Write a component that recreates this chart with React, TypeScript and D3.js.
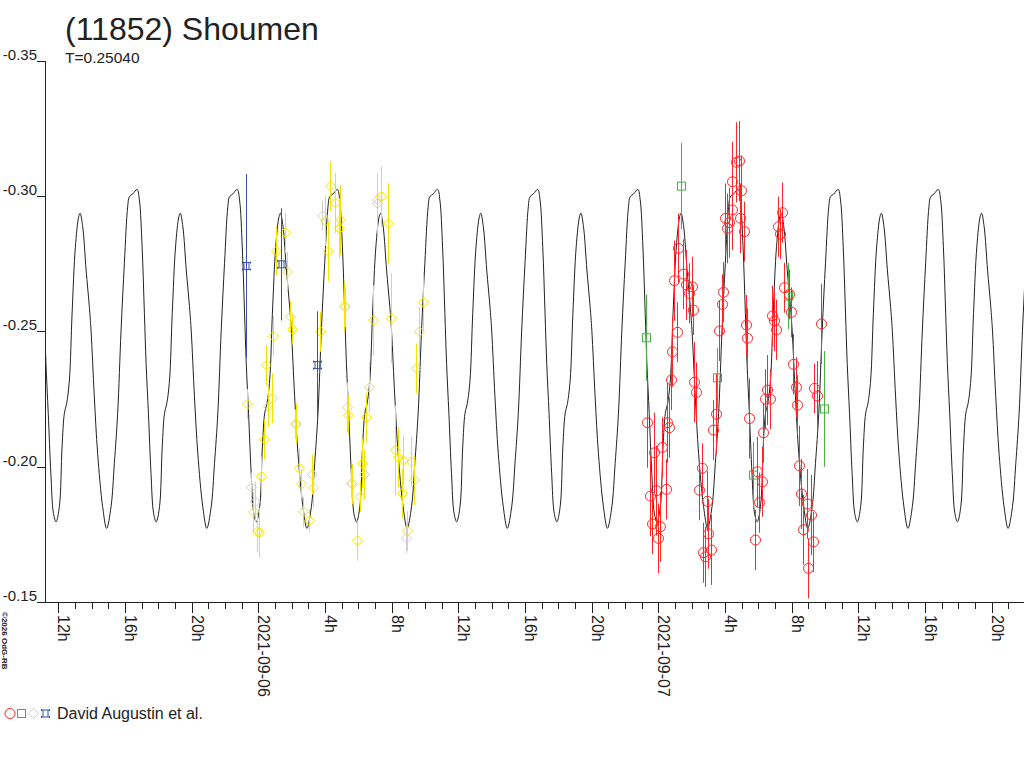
import * as d3 from 'd3'

// hours are counted from 2021-09-06 00:00 UTC
const DAY0 = Date.UTC(2021, 8, 6)
const PERIOD_H = 0.2504 * 24
const EPOCH_H = 11.902
const START_H = -12.8
const END_H = 45.94

// one period of the model lightcurve (phase 0 = fainter minimum)
const modelPhase = [0, 0.033, 0.06, 0.083, 0.106, 0.133, 0.16, 0.193, 0.226, 0.24, 0.266, 0.3, 0.332, 0.349, 0.382, 0.415, 0.465, 0.505, 0.549, 0.582, 0.615, 0.649, 0.682, 0.715, 0.732, 0.765, 0.809, 0.832, 0.859, 0.882, 0.899, 0.922, 0.948, 0.974]
const modelMag = [-0.1796, -0.1852, -0.2073, -0.2197, -0.2234, -0.232, -0.2566, -0.2812, -0.2923, -0.2936, -0.2886, -0.2726, -0.2591, -0.2504, -0.2258, -0.2049, -0.1852, -0.1772, -0.1852, -0.2012, -0.2197, -0.2504, -0.2751, -0.296, -0.2997, -0.3007, -0.3024, -0.2985, -0.2812, -0.2566, -0.2381, -0.2197, -0.1975, -0.1827]

const redHours = [25.198, 24.958, 25.498, 25.66, 26.002, 25.858, 26.062, 25.102, 24.838, 28.642, 28.402, 28.402, 28.0, 28.258, 28.138, 28.9, 27.898, 27.802, 27.658, 28.81, 28.942, 29.14, 29.242, 29.338, 31.438, 31.162, 31.3, 31.558, 31.858, 31.96, 30.838, 30.94, 31.042, 32.098, 33.742, 24.76, 23.338, 24.538, 24.64, 23.74, 24.238, 23.86, 24.442, 23.5, 23.62, 24.1, 23.998, 26.158, 26.26, 27.442, 27.262, 26.602, 26.44, 26.938, 26.998, 27.142, 26.662, 26.8, 30.538, 30.4, 30.7, 29.458, 30.298, 29.902, 30.202, 30.058, 29.8, 32.242, 32.338, 33.358, 33.502, 32.44, 32.542, 32.902, 33.142, 32.662, 33.298, 32.962]
const redMags = [-0.2806, -0.2687, -0.2711, -0.2671, -0.2664, -0.264, -0.2578, -0.2496, -0.2424, -0.3124, -0.3052, -0.2948, -0.2917, -0.2901, -0.288, -0.2917, -0.2644, -0.2599, -0.2501, -0.3129, -0.3019, -0.2868, -0.2523, -0.2474, -0.2938, -0.2886, -0.2859, -0.2661, -0.2636, -0.257, -0.2557, -0.2538, -0.2505, -0.2378, -0.2527, -0.232, -0.2162, -0.2162, -0.2144, -0.2051, -0.2071, -0.1911, -0.1916, -0.1891, -0.1788, -0.1778, -0.1735, -0.2312, -0.2274, -0.2194, -0.2135, -0.1994, -0.1913, -0.1872, -0.1752, -0.1692, -0.1682, -0.1667, -0.2283, -0.2249, -0.2249, -0.2178, -0.2125, -0.1981, -0.1944, -0.1867, -0.1729, -0.2293, -0.2227, -0.2289, -0.2261, -0.2003, -0.1899, -0.1862, -0.1821, -0.1767, -0.1722, -0.1624]
const redErrs = [0.0129, 0.0148, 0.0129, 0.0129, 0.0111, 0.0111, 0.0092, 0.0111, 0.0129, 0.0148, 0.0148, 0.0148, 0.0129, 0.0129, 0.0129, 0.0129, 0.0111, 0.0111, 0.0111, 0.0148, 0.0129, 0.0111, 0.0111, 0.0111, 0.0111, 0.0111, 0.0092, 0.0092, 0.0092, 0.0092, 0.0111, 0.0111, 0.0111, 0.0111, 0.0148, 0.0111, 0.0166, 0.0148, 0.0111, 0.0148, 0.0111, 0.0166, 0.0111, 0.0148, 0.0111, 0.0129, 0.0129, 0.0148, 0.0111, 0.0148, 0.0111, 0.0092, 0.0111, 0.0111, 0.0129, 0.0129, 0.0111, 0.0111, 0.0129, 0.0111, 0.0111, 0.0148, 0.0111, 0.0129, 0.0129, 0.0111, 0.0111, 0.0111, 0.0111, 0.0092, 0.0129, 0.0148, 0.0129, 0.0129, 0.0148, 0.0129, 0.0111, 0.0111]

const yellowHours = [4.3, 4.0, 4.198, 4.918, 4.84, 4.6, 1.6, 1.06, 1.72, 1.9, 2.002, 0.898, 3.7, 5.158, 7.342, 7.12, 7.762, 6.898, 7.96, 9.898, 9.64, 0.46, -0.662, 0.802, 0.598, 0.34, 0.16, -0.458, -0.302, -0.062, 0.058, 2.26, 2.44, 2.56, 3.238, 3.298, 2.698, 3.022, 6.64, 5.302, 5.398, 6.46, 6.202, 6.358, 5.638, 6.1, 5.902, 9.46, 8.2, 8.362, 8.698, 9.142, 9.322, 8.602, 8.938]
const yellowMags = [-0.3036, -0.2907, -0.2796, -0.2911, -0.288, -0.2974, -0.2864, -0.2796, -0.2719, -0.2554, -0.2507, -0.2482, -0.2498, -0.2593, -0.2997, -0.2972, -0.2899, -0.2541, -0.2548, -0.2607, -0.2498, -0.2375, -0.2231, -0.2252, -0.2221, -0.2101, -0.1963, -0.1923, -0.1833, -0.1759, -0.1756, -0.2157, -0.1994, -0.1936, -0.1971, -0.1922, -0.1833, -0.18, -0.2293, -0.2219, -0.219, -0.2181, -0.2012, -0.1971, -0.1935, -0.1889, -0.1726, -0.2363, -0.2061, -0.2034, -0.2024, -0.2018, -0.195, -0.1901, -0.1762]
const yellowErrs = [0.0092, 0.0092, 0.0111, 0.0129, 0.0111, 0.0111, 0.0074, 0.0092, 0.0074, 0.0055, 0.0055, 0.0074, 0.0074, 0.0092, 0.0111, 0.0111, 0.0148, 0.0129, 0.0166, 0.0111, 0.0092, 0.0074, 0.0055, 0.0092, 0.0074, 0.0074, 0.0074, 0.0055, 0.0074, 0.0074, 0.0092, 0.0074, 0.0074, 0.0055, 0.0074, 0.0074, 0.0055, 0.0044, 0.0092, 0.0092, 0.0074, 0.0092, 0.0092, 0.0092, 0.0074, 0.0055, 0.0074, 0.0092, 0.0166, 0.0111, 0.0092, 0.0092, 0.0092, 0.0092, 0.0074]

const grayHours = [3.82, 7.12, 5.2, 2.2, -0.2, 8.86, 5.56]
const grayMags = [-0.2926, -0.2985, -0.2589, -0.2157, -0.187, -0.1736, -0.1939]
const grayErrs = [0.0055, 0.0037, 0.0074, 0.0055, 0.0074, 0.0055, 0.0055]

const blueHours = [-0.758, 1.36, 3.52]
const blueMags = [-0.2741, -0.2747, -0.2375]
const blueErrs = [0.034, 0.0207, 0.0199]

const greenHours = [25.36, 23.242, 27.502, 29.662, 33.94, 31.798]
const greenMags = [-0.3036, -0.2476, -0.2328, -0.1969, -0.2213, -0.263]
const greenErrs = [0.0159, 0.0159, 0.0111, 0.0122, 0.0214, 0.0122]

const yTicks = [-0.35, -0.3, -0.25, -0.2, -0.15]

const FONT = '"Liberation Sans", Arial, sans-serif'
const INK = '#222'
const RED = '#ff2626'
const GREEN = '#48b040'
const YELLOW = '#f2e400'
const BLUE = '#3552a6'
const GRAY = '#cfcfcf'

const L = 45, R = 1024, T = 60.5, B = 602
const toDate = (h: number) => new Date(DAY0 + h * 3600e3)

const x = d3.scaleUtc().domain([toDate(START_H), toDate(END_H)]).range([L, R])
const y = d3.scaleLinear().domain([-0.35, -0.15]).range([T, B])

const DIAMOND = 'M0,-5L5,0L0,5L-5,0Z'
const STAR = 'M-4,-3.5L4,-3.5M-4,3.5L4,3.5M-2.5,-3.5L-2.5,3.5M2.5,-3.5L2.5,3.5M-4,-4.5L-4,-2.5M4,-4.5L4,-2.5M-4,2.5L-4,4.5M4,2.5L4,4.5'

type Kind = 'circle' | 'square' | 'diamond' | 'star'

function Marker({ kind, color, cx, cy }: { kind: Kind; color: string; cx: number; cy: number }) {
  if (kind === 'circle') return <circle cx={cx} cy={cy} r={5} fill="none" stroke={color} strokeWidth={1} />
  if (kind === 'square') return <rect x={cx - 4} y={cy - 4} width={8} height={8} fill="none" stroke={color} strokeWidth={1} />
  if (kind === 'diamond') return <path d={DIAMOND} transform={`translate(${cx},${cy})`} fill="none" stroke={color} strokeWidth={1} />
  return <path d={STAR} transform={`translate(${cx},${cy})`} fill="none" stroke={color} strokeWidth={1} />
}

function Series({ hours, mags, errs, color, kind }: { hours: number[]; mags: number[]; errs: number[]; color: string; kind: Kind }) {
  return (
    <g>
      {hours.map((h, i) => {
        const cx = Math.round(x(toDate(h))) + 0.5
        return (
          <g key={i}>
            <line x1={cx} x2={cx} y1={y(mags[i] - errs[i])} y2={y(mags[i] + errs[i])} stroke={color} strokeWidth={1} />
            <Marker kind={kind} color={color} cx={cx} cy={y(mags[i])} />
          </g>
        )
      })}
    </g>
  )
}

export default function App() {
  // tile the one-period model over the whole time range
  const modelPts: [number, number][] = []
  for (let k = -6; k <= 9; k++) {
    modelPhase.forEach((p, i) => {
      const h = EPOCH_H + (k + p) * PERIOD_H
      modelPts.push([x(toDate(h)), y(modelMag[i])])
    })
  }
  const line = d3.line().curve(d3.curveCatmullRom.alpha(0.5))
  const hourTicks = d3.utcHour.range(toDate(START_H), toDate(END_H))
  const fmtDay = d3.utcFormat('%Y-%m-%d')

  return (
    <svg width={1024} height={768} style={{ position: 'absolute', left: 0, top: 0, background: '#fff' }} fontFamily={FONT}>
      <defs>
        <clipPath id="plot"><rect x={L + 1} y={0} width={R - L} height={B} /></clipPath>
      </defs>

      <text x={65} y={40} fontSize={32} fill={INK}>(11852) Shoumen</text>
      <text x={65} y={63} fontSize={15.5} fill={INK}>T=0.25040</text>

      {/* y axis */}
      <g shapeRendering="crispEdges" stroke={INK}>
        <line x1={L + 0.5} x2={L + 0.5} y1={y(-0.35)} y2={B} />
        {yTicks.map(t => (
          <line key={t} x1={37} x2={L} y1={Math.round(y(t)) + 0.5} y2={Math.round(y(t)) + 0.5} />
        ))}
      </g>
      {yTicks.map(t => (
        <text key={t} x={37} y={Math.round(y(t)) - 1} textAnchor="end" fontSize={15} fill={INK}>{t.toFixed(2)}</text>
      ))}

      {/* x axis */}
      <g shapeRendering="crispEdges" stroke={INK}>
        <line x1={L} x2={R} y1={B + 0.5} y2={B + 0.5} />
        {hourTicks.map(d => {
          const tx = Math.round(x(d)) + 0.5
          const major = d.getUTCHours() % 4 === 0
          return <line key={+d} x1={tx} x2={tx} y1={B} y2={B + (major ? 11 : 7)} />
        })}
      </g>
      {hourTicks.filter(d => d.getUTCHours() % 4 === 0).map(d => {
        const tx = Math.round(x(d))
        const hr = d.getUTCHours()
        return (
          <text key={+d} transform={`translate(${tx},615) rotate(90)`} fontSize={16} fill={INK}>
            {hr === 0 ? fmtDay(d) : `${hr}h`}
          </text>
        )
      })}

      <text transform="translate(2,612) rotate(90)" fontSize={8} fontWeight="bold" fill={INK}>©2026 OdG-RB</text>

      {/* model */}
      <g clipPath="url(#plot)">
        <path d={line(modelPts) ?? ''} fill="none" stroke={INK} strokeWidth={1} />
      </g>

      {/* observations */}
      <Series hours={grayHours} mags={grayMags} errs={grayErrs} color={GRAY} kind="diamond" />
      <Series hours={yellowHours} mags={yellowMags} errs={yellowErrs} color={YELLOW} kind="diamond" />
      <Series hours={blueHours} mags={blueMags} errs={blueErrs} color={BLUE} kind="star" />
      <Series hours={greenHours} mags={greenMags} errs={greenErrs} color={GREEN} kind="square" />
      <Series hours={redHours} mags={redMags} errs={redErrs} color={RED} kind="circle" />

      {/* legend */}
      <Marker kind="circle" color={RED} cx={10} cy={713.5} />
      <Marker kind="square" color={GREEN} cx={21.5} cy={713.5} />
      <Marker kind="diamond" color={YELLOW} cx={33.5} cy={713.5} />
      <Marker kind="star" color={BLUE} cx={45.5} cy={713.5} />
      <text x={57} y={719} fontSize={16} fill={INK}>David Augustin et al.</text>
    </svg>
  )
}
